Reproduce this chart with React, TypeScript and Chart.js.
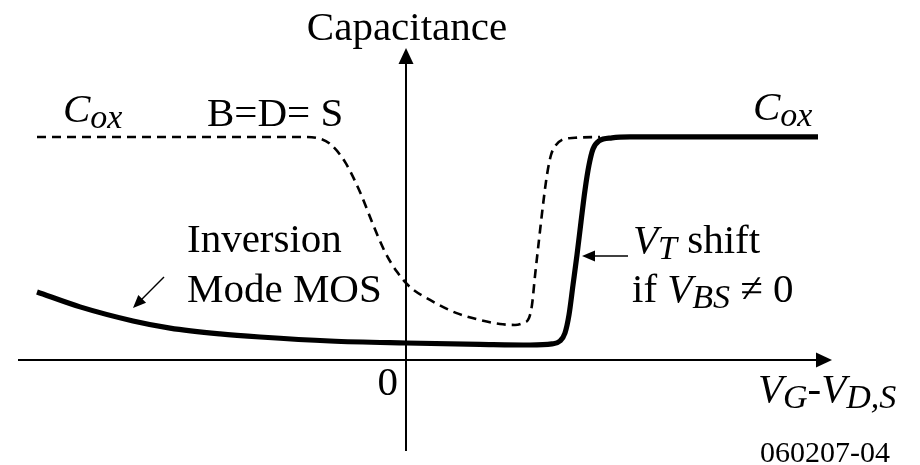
import React, { useEffect, useRef } from "react";
import { Chart, registerables } from "chart.js";

Chart.register(...registerables);

// Gate voltage (arbitrary units, 0 at the vertical axis) and normalised capacitance C/Cox.
const bdsVoltage = [
  -3.69, -1.06, -0.9, -0.76, -0.61, -0.46, -0.34, -0.21, -0.09, 0.04, 0.24, 0.5,
  0.74, 0.94, 1.09, 1.17, 1.23, 1.26, 1.29, 1.33, 1.37, 1.41, 1.45, 1.5, 1.56, 1.69, 1.94,
];
const bdsCapacitance = [
  1.0, 1.0, 0.996, 0.969, 0.888, 0.753, 0.619, 0.484, 0.395, 0.327, 0.269, 0.211,
  0.179, 0.161, 0.157, 0.166, 0.188, 0.247, 0.377, 0.538, 0.695, 0.83, 0.919, 0.964, 0.987, 0.996, 1.0,
];

const invVoltage = [
  -3.69, -3.26, -2.73, -2.36, -1.86, -1.46, -0.76, 0, 0.74, 1.24, 1.46, 1.54, 1.59,
  1.63, 1.67, 1.71, 1.75, 1.79, 1.83, 1.87, 1.93, 2.06, 2.24, 4.12,
];
const invCapacitance = [
  0.305, 0.238, 0.175, 0.143, 0.117, 0.103, 0.085, 0.076, 0.07, 0.067, 0.072, 0.085, 0.121,
  0.202, 0.336, 0.471, 0.619, 0.762, 0.874, 0.946, 0.982, 0.996, 1.0, 1.0,
];

const xTickLabels = ["0"];

const SERIF = '"Liberation Serif", "Times New Roman", serif';
const BIG = 41;
const SMALL = 34;

type Seg = { t: string; it?: boolean; sub?: boolean };
type Label = { x: number; y: number; segs: Seg[]; align?: "left" | "center" | "right"; size?: number };

const labels: Label[] = [
  { x: 0.01, y: 1.435, segs: [{ t: "Capacitance" }], align: "center" },
  { x: -3.43, y: 1.067, segs: [{ t: "C", it: true }, { t: "ox", it: true, sub: true }] },
  { x: -1.99, y: 1.049, segs: [{ t: "B=D= S" }] },
  { x: 3.47, y: 1.076, segs: [{ t: "C", it: true }, { t: "ox", it: true, sub: true }] },
  { x: -2.19, y: 0.484, segs: [{ t: "Inversion" }] },
  { x: -2.19, y: 0.26, segs: [{ t: "Mode MOS" }] },
  { x: 2.27, y: 0.48, segs: [{ t: "V", it: true }, { t: "T", it: true, sub: true }, { t: " shift" }] },
  {
    x: 2.26,
    y: 0.26,
    segs: [{ t: "if " }, { t: "V", it: true }, { t: "BS", it: true, sub: true }, { t: " \u2260 0" }],
  },
  { x: -0.08, y: -0.157, segs: [{ t: xTickLabels[0] }], align: "right" },
  {
    x: 3.52,
    y: -0.188,
    segs: [
      { t: "V", it: true },
      { t: "G", it: true, sub: true },
      { t: "-" },
      { t: "V", it: true },
      { t: "D,S", it: true, sub: true },
    ],
  },
  { x: 3.54, y: -0.457, segs: [{ t: "060207-04" }], size: 30 },
];

// Pointer arrows: [fromX, fromY, toX, toY]
const pointers = [
  [-2.42, 0.372, -2.73, 0.233],
  [2.22, 0.466, 1.76, 0.466],
];

function segFont(s: Seg, size: number) {
  const px = s.sub ? SMALL : size;
  return `${s.it ? "italic " : ""}${px}px ${SERIF}`;
}

const decorPlugin = {
  id: "decor",
  afterDatasetsDraw(chart: any) {
    const ctx: CanvasRenderingContext2D = chart.ctx;
    const xs = chart.scales.x;
    const ys = chart.scales.y;
    const X = (v: number) => xs.getPixelForValue(v);
    const Y = (v: number) => ys.getPixelForValue(v);

    ctx.save();
    ctx.fillStyle = "#000";
    ctx.strokeStyle = "#000";

    // axes
    const x0 = X(0);
    const y0 = Y(0);
    ctx.lineWidth = 2;
    ctx.beginPath();
    ctx.moveTo(X(-3.88), y0);
    ctx.lineTo(X(4.12), y0);
    ctx.moveTo(x0, Y(-0.408));
    ctx.lineTo(x0, Y(1.33));
    ctx.stroke();

    const head = (tx: number, ty: number, dx: number, dy: number, len: number, half: number) => {
      const bx = tx - dx * len;
      const by = ty - dy * len;
      ctx.beginPath();
      ctx.moveTo(tx, ty);
      ctx.lineTo(bx - dy * half, by + dx * half);
      ctx.lineTo(bx + dy * half, by - dx * half);
      ctx.closePath();
      ctx.fill();
    };
    head(X(4.26), y0, 1, 0, 16, 7.5);
    head(x0, Y(1.399), 0, -1, 16, 7.5);

    // pointer arrows
    ctx.lineWidth = 1.4;
    pointers.forEach(([fx, fy, tx, ty]) => {
      const ax = X(fx), ay = Y(fy), bx = X(tx), by = Y(ty);
      const d = Math.hypot(bx - ax, by - ay);
      const ux = (bx - ax) / d, uy = (by - ay) / d;
      ctx.beginPath();
      ctx.moveTo(ax, ay);
      ctx.lineTo(bx - ux * 10, by - uy * 10);
      ctx.stroke();
      head(bx, by, ux, uy, 13, 5.5);
    });

    // text
    ctx.textBaseline = "alphabetic";
    ctx.textAlign = "left";
    labels.forEach((lb) => {
      const size = lb.size ?? BIG;
      let width = 0;
      lb.segs.forEach((s) => {
        ctx.font = segFont(s, size);
        width += ctx.measureText(s.t).width;
      });
      let cx = X(lb.x);
      if (lb.align === "center") cx -= width / 2;
      else if (lb.align === "right") cx -= width;
      const by = Y(lb.y);
      lb.segs.forEach((s) => {
        ctx.font = segFont(s, size);
        ctx.fillText(s.t, cx, by + (s.sub ? 6 : 0));
        cx += ctx.measureText(s.t).width;
      });
    });
    ctx.restore();
  },
};

export default function App() {
  const ref = useRef<HTMLCanvasElement | null>(null);

  useEffect(() => {
    if (!ref.current) return;
    const chart = new Chart(ref.current, {
      type: "line",
      data: {
        datasets: [
          {
            label: "B=D=S",
            data: bdsVoltage.map((v, i) => ({ x: v, y: bdsCapacitance[i] })),
            borderColor: "#000",
            borderWidth: 2.6,
            borderDash: [9, 6],
            pointRadius: 0,
            cubicInterpolationMode: "monotone",
            fill: false,
          },
          {
            label: "Inversion Mode MOS",
            data: invVoltage.map((v, i) => ({ x: v, y: invCapacitance[i] })),
            borderColor: "#000",
            borderWidth: 5.2,
            borderJoinStyle: "round",
            pointRadius: 0,
            cubicInterpolationMode: "monotone",
            fill: false,
          },
        ],
      },
      options: {
        animation: false,
        responsive: false,
        devicePixelRatio: 1,
        layout: { padding: 0 },
        plugins: { legend: { display: false }, tooltip: { enabled: false }, title: { display: false } },
        scales: {
          x: { type: "linear", min: -4.06, max: 5.14, display: false },
          y: { type: "linear", min: -0.471, max: 1.614, display: false },
        },
      },
      plugins: [decorPlugin],
    } as any);
    return () => chart.destroy();
  }, []);

  return (
    <div style={{ position: "fixed", left: 0, top: 0, width: 920, height: 465, background: "#fff" }}>
      <canvas ref={ref} width={920} height={465} style={{ display: "block" }} />
    </div>
  );
}
